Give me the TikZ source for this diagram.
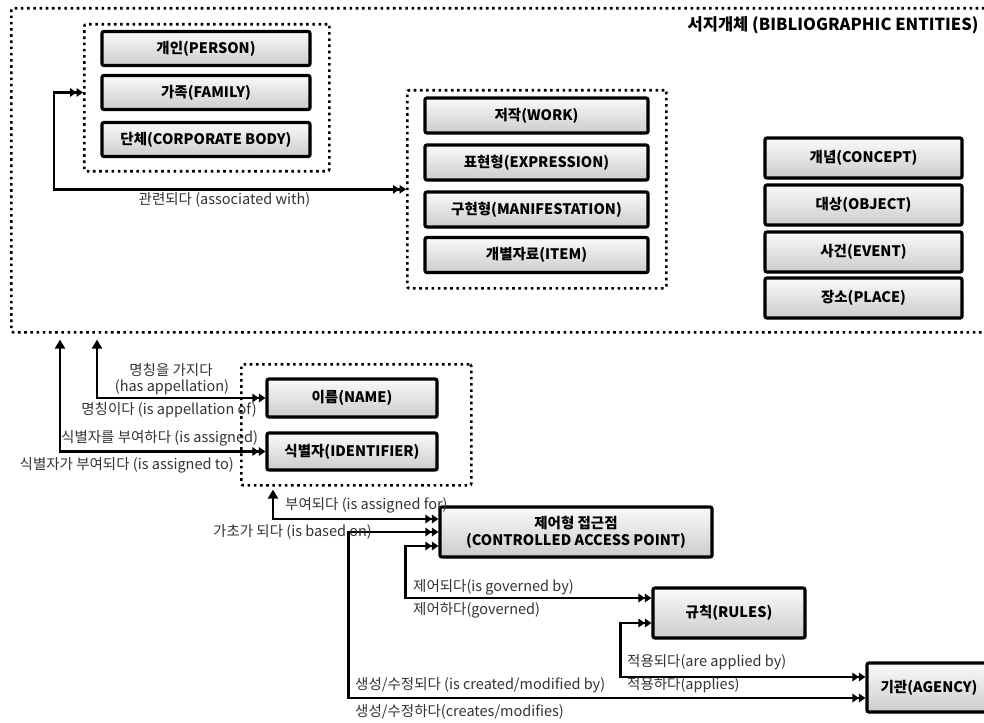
\documentclass[tikz,border=0pt]{standalone}
\usepackage{fontspec}
\setmainfont{Noto Sans CJK KR}
\usetikzlibrary{arrows.meta,shadows}
\tikzset{
  dtip/.tip={Triangle[length=6.5pt,width=8.5pt]Triangle[length=6.5pt,width=8.5pt]},
  utip/.tip={Triangle[length=9pt,width=10pt]},
  entity/.style={draw=black, line width=3.2pt, rounded corners=2pt,
    top color=gray!4, bottom color=gray!40,
    drop shadow={shadow xshift=1.5pt, shadow yshift=-1.5pt, opacity=0.25, fill=gray},
    font=\bfseries\fontsize{14.5}{17}\selectfont, inner sep=0pt, align=center},
  grp/.style={draw=black, line width=2.6pt, dash pattern=on 2.6pt off 3.6pt,
    rounded corners=2pt, inner sep=0pt, anchor=north west},
  lab/.style={font=\fontsize{14.5}{16}\selectfont, text=black!80, inner sep=0pt},
  conn/.style={draw=black, line width=2.8pt}
}
\begin{document}
\begin{tikzpicture}[x=1pt,y=-1pt]
\clip (0,0) rectangle (984,722);
\fill[white] (0,0) rectangle (984,722);

% groups
\node[grp, minimum width=1000pt, minimum height=324pt] (outer) at (10,7) {};
\node[grp, minimum width=245pt, minimum height=147pt] (pgrp) at (83,23) {};
\node[grp, minimum width=259pt, minimum height=198pt] (wgrp) at (406,89) {};
\node[grp, minimum width=230pt, minimum height=121pt] (ngrp) at (240,363) {};

\node[anchor=east, font=\bfseries\fontsize{16.5}{18}\selectfont] (title) at (982,25) {서지개체 (BIBLIOGRAPHIC ENTITIES)};

% person group
\node[entity, minimum width=208pt, minimum height=34pt] (person) at (206,48.5) {개인(PERSON)};
\node[entity, minimum width=208pt, minimum height=34pt] (family) at (206,92.5) {가족(FAMILY)};
\node[entity, minimum width=208pt, minimum height=34pt] (corp) at (206,139.5) {단체(CORPORATE BODY)};

% work group
\node[entity, minimum width=223pt, minimum height=35pt] (work) at (536.5,115.5) {저작(WORK)};
\node[entity, minimum width=223pt, minimum height=35pt] (expr) at (536.5,162.5) {표현형(EXPRESSION)};
\node[entity, minimum width=223pt, minimum height=35pt] (mani) at (536.5,209.5) {구현형(MANIFESTATION)};
\node[entity, minimum width=223pt, minimum height=35pt] (item) at (536.5,255) {개별자료(ITEM)};

% subject entities
\node[entity, minimum width=197pt, minimum height=40pt] (concept) at (863.5,158) {개념(CONCEPT)};
\node[entity, minimum width=197pt, minimum height=40pt] (object) at (863.5,205) {대상(OBJECT)};
\node[entity, minimum width=197pt, minimum height=40pt] (event) at (863.5,252) {사건(EVENT)};
\node[entity, minimum width=197pt, minimum height=40pt] (place) at (863.5,298) {장소(PLACE)};

% name group
\node[entity, minimum width=170pt, minimum height=38pt] (name) at (352,398) {이름(NAME)};
\node[entity, minimum width=170pt, minimum height=37pt] (ident) at (352,451.5) {식별자(IDENTIFIER)};

% lower entities
\node[entity, minimum width=272pt, minimum height=50pt] (cap) at (576,532) {제어형 접근점\\(CONTROLLED ACCESS POINT)};
\node[entity, minimum width=152pt, minimum height=50pt] (rules) at (729,613) {규칙(RULES)};
\node[entity, minimum width=124pt, minimum height=49pt] (agency) at (929,687.5) {기관(AGENCY)};

% connectors
\draw[conn, {dtip}-{dtip}] (pgrp.west |- family) -- ++(-29,0) |- (wgrp.west);
\draw[conn, {dtip}-{utip}] (name.west) -| ([xshift=87pt,yshift=-6pt]outer.south west);
\draw[conn, {dtip}-{utip}] (ident.west) -| ([xshift=50pt,yshift=-6pt]outer.south west);
\draw[conn, {utip}-{dtip}] ([xshift=33pt,yshift=-3pt]ngrp.south west) |- ([yshift=13pt]cap.west);
\draw[conn, {dtip}-{dtip}] (cap.west) -- ++(-90,0) |- ([yshift=-10.5pt]agency.west);
\draw[conn, {dtip}-{dtip}] ([yshift=-14pt]cap.west) -- ++(-33,0) |- ([yshift=15pt]rules.west);
\draw[conn, {dtip}-{dtip}] ([yshift=-10pt]rules.west) -- ++(-31,0) |- ([yshift=10.5pt]agency.west);

% labels
\node[lab] (l1) at (224.5,200) {관련되다 (associated with)};
\node[lab] (l2a) at (171,370) {명칭을 가지다};
\node[lab] (l2b) at (172,387) {(has appellation)};
\node[lab, anchor=east] (l3) at (257,410) {명칭이다 (is appellation of)};
\node[lab, anchor=west] (l4) at (61,438) {식별자를 부여하다 (is assigned)};
\node[lab, anchor=east] (l5) at (234,465) {식별자가 부여되다 (is assigned to)};
\node[lab, anchor=west] (l6) at (285,505) {부여되다 (is assigned for)};
\node[lab, anchor=east] (l7) at (372,532) {가초가 되다 (is based on)};
\node[lab, anchor=west] (l8) at (413,587) {제어되다(is governed by)};
\node[lab, anchor=west] (l9) at (413,610) {제어하다(governed)};
\node[lab, anchor=west] (l10) at (627,662) {적용되다(are applied by)};
\node[lab, anchor=west] (l11) at (627,685) {적용하다(applies)};
\node[lab, anchor=west] (l12) at (355,685) {생성/수정되다 (is created/modified by)};
\node[lab, anchor=west] (l13) at (355,712) {생성/수정하다(creates/modifies)};
\end{tikzpicture}
\end{document}
